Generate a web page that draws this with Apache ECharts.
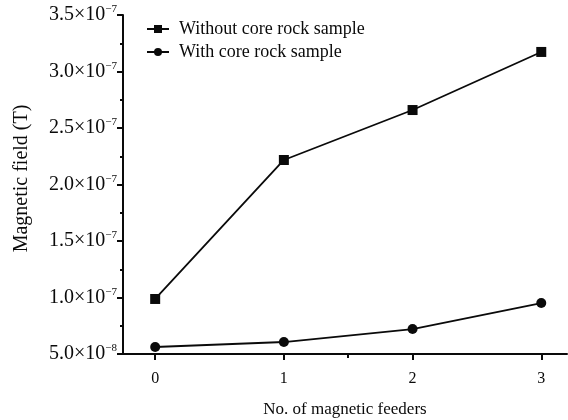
<!DOCTYPE html>
<html>
<head>
<meta charset="utf-8">
<script src="https://cdn.jsdelivr.net/npm/echarts@6/dist/echarts.min.js"></script>
<style>html,body{margin:0;padding:0;background:#fff;}#c{width:568px;height:420px;}</style>
</head>
<body>
<div id="c"></div>
<script>
// Data (magnetic field in units of 1e-7 T)
var feeders = [0, 1, 2, 3];
var withoutCore = [0.987, 2.217, 2.659, 3.173];
var withCore = [0.562, 0.606, 0.721, 0.951];
var seriesNames = ['Without core rock sample', 'With core rock sample'];
var yTickMantissa = ['5.0', '1.0', '1.5', '2.0', '2.5', '3.0', '3.5'];
var yTickExponent = ['\u22128', '\u22127', '\u22127', '\u22127', '\u22127', '\u22127', '\u22127'];
var xTickValues = [0, 1, 2, 3];
var xMinorTickValues = [1.5];

var FONT = 'Liberation Serif';
var INK = '#0a0a0a';
var chart = echarts.init(document.getElementById('c'), null, {renderer: 'canvas'});

function pairs(xs, ys) { return xs.map(function (x, i) { return [x, ys[i]]; }); }

var option = {
  backgroundColor: '#fff',
  animation: false,
  textStyle: {fontFamily: FONT, color: INK},
  grid: {left: 123, right: 1, top: 15, bottom: 66, containLabel: false, outerBoundsMode: 'none'},
  legend: {
    left: 141, top: 15, orient: 'vertical',
    itemWidth: 22, itemHeight: 10, itemGap: 5,
    textStyle: {fontFamily: FONT, fontSize: 18, color: INK, padding: [0, 0, 0, 5]},
    data: seriesNames
  },
  xAxis: [{
    type: 'value', min: -0.25, max: 3.2,
    name: 'No. of magnetic feeders', nameLocation: 'middle', nameGap: 47,
    nameTextStyle: {fontFamily: FONT, fontSize: 17, color: INK},
    axisLine: {show: true, onZero: false, lineStyle: {color: INK, width: 2}},
    axisTick: {show: true, inside: false, length: 6, customValues: xTickValues, lineStyle: {color: INK, width: 2}},
    axisLabel: {show: true, margin: 17, customValues: xTickValues, fontFamily: FONT, fontSize: 16, color: INK},
    splitLine: {show: false}
  }, {
    type: 'value', min: -0.25, max: 3.2, position: 'bottom',
    axisLine: {show: false},
    axisTick: {show: true, inside: false, length: 4, customValues: xMinorTickValues, lineStyle: {color: INK, width: 2}},
    axisLabel: {show: false},
    splitLine: {show: false}
  }],
  yAxis: {
    type: 'value', min: 0.5, max: 3.5, interval: 0.5,
    name: 'Magnetic field (T)', nameLocation: 'middle', nameGap: 91, nameRotate: 90,
    nameTextStyle: {fontFamily: FONT, fontSize: 20, color: INK, padding: [0, 0, 0, 12]},
    axisLine: {show: true, onZero: false, lineStyle: {color: INK, width: 2}},
    axisTick: {show: true, inside: false, length: 6, lineStyle: {color: INK, width: 2}},
    minorTick: {show: true, splitNumber: 2, length: 3, lineStyle: {color: INK, width: 2}},
    axisLabel: {
      margin: 6, fontFamily: FONT, color: INK,
      formatter: function (v) {
        var i = Math.round((v - 0.5) / 0.5);
        return '{m|' + yTickMantissa[i] + '\u00d710}{s|' + yTickExponent[i] + '}';
      },
      rich: {
        m: {fontFamily: FONT, fontSize: 20, color: INK},
        s: {fontFamily: FONT, fontSize: 11, color: INK, padding: [0, 0, 11, 0]}
      }
    },
    splitLine: {show: false}
  },
  series: [{
    name: seriesNames[0], type: 'line', xAxisIndex: 0,
    data: pairs(feeders, withoutCore),
    symbol: 'rect', symbolSize: 10,
    lineStyle: {color: INK, width: 1.8},
    itemStyle: {color: INK}
  }, {
    name: seriesNames[1], type: 'line', xAxisIndex: 0,
    data: pairs(feeders, withCore),
    symbol: 'circle', symbolSize: 10,
    lineStyle: {color: INK, width: 1.8},
    itemStyle: {color: INK}
  }]
};
chart.setOption(option);
</script>
</body>
</html>
